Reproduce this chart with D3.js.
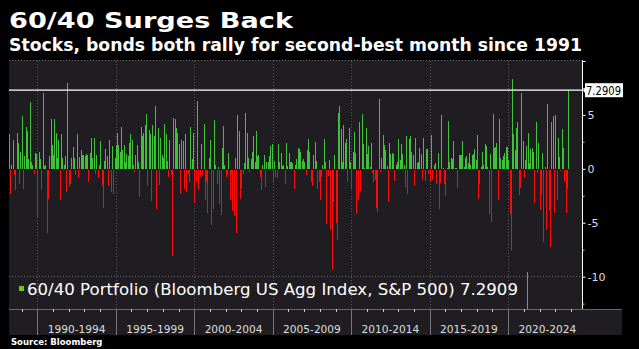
<!DOCTYPE html>
<html>
<head>
<meta charset="utf-8">
<script src="https://cdn.jsdelivr.net/npm/d3@7"></script>
<style>
html, body { margin: 0; padding: 0; background: #000; }
svg { display: block; }
text { font-family: "DejaVu Sans", Verdana, sans-serif; }
</style>
</head>
<body>
<svg id="svg" width="639" height="349"></svg>
<script>
// monthly 60/40 returns (%), first bar = March 1988, last = November 2023
var firstYear = 1988, firstMonth = 2;
var returns = [
  3.2, -2.2, 0.4, 2.7, -0.5, -1.9, 3.3, 2.4, -1.3, 1.6,
  4.9, -1.8, 1.2, 3.9, 3.5, 0.9, 6.2, 0.6, 0.4, -0.4,
  1.5, 1.4, -4.5, 1.6, 0.9, -1.9, 7.0, 0.25, 0.4, -5.9,
  -2.7, 1.2, 4.6, 2.2, 1.3, 4.6, 3.3, 1.0, 2.7, -2.8,
  3.2, 1.0, 0.4, 1.2, -2.1, 8.0, -1.6, -1.3, 1.0, 2.0,
  1.0, -0.5, 3.2, -0.8, 1.1, 1.7, 1.3, 1.3, 1.2, 1.4,
  1.3, -1.1, 1.5, 2.9, 1.0, 2.9, -0.4, 1.3, -0.8, 0.4,
  2.6, -1.5, -3.5, 0.7, 1.8, 1.2, -1.5, 2.7, -2.1, 2.1,
  -2.2, 1.0, 2.2, 3.3, 2.2, 1.6, 3.9, 1.7, 2.2, 0.6,
  1.4, 1.2, 2.4, 3.2, 2.7, 0.4, -0.2, 1.3, 2.2, 0.6,
  -2.5, 3.9, 3.0, 3.3, 4.1, 5.1, -1.5, 3.6, 3.2, -2.9,
  4.1,
  3.0, 5.8, -3.6, 3.8, -1.4, 2.9, 1.3, 1.0, 4.2, 3.2,
  0.7, -0.7, 2.7, -0.5, -8.0, 4.7, 4.6, 3.8, 3.3, 2.3,
  -2.2, 2.7, 2.6, -1.8, 3.2, -2.1, -0.4, -1.1, 3.9, 0.9,
  3.3, -3.1, -1.0, 6.3, -1.9, -0.7, 2.3, -0.5, 4.2, -2.8,
  -1.1, -4.0, 1.0, 2.7, -5.1, -3.6, 4.5, 0.4, -1.3, 0.2,
  -3.2, -4.2, 1.9, 4.0, 0.4, -0.7, -0.4, 1.5, -2.8, -0.4,
  -3.8, -4.3, 1.0, -5.9, 5.0, 3.5, -2.7, -1.8, -0.4, 0.5,
  5.2, 3.3, 1.0, -0.2, 0.9, 1.6, 3.0, 0.6, 3.5, 1.2,
  1.3, -0.7, -1.9, 0.4, 1.3, -1.6, 0.6, 0.6, 1.2, 2.1,
  2.3, -1.2, 0.7, -0.7, -0.8, 2.3, 0.6, 1.5, 0.3, 0.4,
  -1.3, 2.4, 0.3, 1.5, 0.6, 0.6, 0.5, -1.8,
  0.4, 0.9, 1.9, 1.8, 1.6, 0.7, 0.9, 0.6, -0.5, 1.7,
  2.8, 1.6, -1.1, -1.5, 1.3, 2.5, 0.7, -1.8, -1.1, -2.8,
  -0.7, 0.4, 2.8, 0.6, -5.0, -0.6, 0.8, -5.6, -9.3, -3.0,
  1.3, -4.9, -6.5, 5.2, 5.8, 3.7, 0.6, 4.1, 2.4, 2.8,
  -1.1, 3.8, 0.6, -1.8, 1.6, 3.4, 1.5, -4.1, -2.8, 4.3,
  -2.0, 5.1, 2.3, 0.1, 3.8, 1.4, 2.1, 0.2, 2.4, -0.3,
  -1.1, -0.9, -3.5, -3.9, 6.5, -0.2, 1.0, 3.1, 2.2, 1.7,
  0.3, -3.0, 2.4, 1.4, 1.5, 1.4, -1.0, 0.4, 0.6, 2.8,
  0.8, 2.3, 1.4, 0.4, -1.6, 3.0, -2.2, 2.8, 3.0, 1.6,
  1.3, -1.5, 2.9, 0.5, 0.6, 1.9, 1.4, -0.9, 2.9, -1.0,
  1.8, 1.8, -0.4, -1.0, 3.1, -0.9, 0.4, 0.5, -1.3,
  1.5, -3.6, -1.2, 5.0, 0.1, -1.3, -2.4, 0.1, 4.4, 0.6,
  1.0, 0.9, 2.6, 0.1, 0.1, -1.7, 1.3, 1.3, 1.3, 2.6,
  0.2, 1.0, 1.2, 0.5, 1.5, 0.4, 1.3, 1.4, 1.8, 0.8,
  3.1, -2.7, -1.3, 0.2, 1.6, 0.4, 2.3, 2.1, 0.2, -4.1,
  1.4, -4.8, 5.1, 1.9, 2.0, 2.4, -2.8, 4.6, 1.0, 0.8,
  1.2, 1.5, 2.0, 2.0, 0.8, -4.1, -7.4, 8.3, 3.2, 1.7,
  3.8, 4.3, -2.3, -1.7, 7.0, 2.6, -0.8, 0.8, 2.1, 3.3,
  0.5, 1.8, 1.9, 1.6, -3.1, 4.3, -0.3, 2.4, -3.7, -2.3,
  1.5, -6.7, 0.2, -5.6, 6.0, -3.7, -7.2, 4.3, 4.9, -4.0,
  5.0, -2.8, 2.9, 1.1, -0.1, 3.7, 1.9, -1.1, -4.0, -1.8,
  7.2909
];
var latest = 7.2909;
var periodStarts = [1990, 1995, 2000, 2005, 2010, 2015, 2020];
var periodLabels = ["1990-1994", "1995-1999", "2000-2004", "2005-2009", "2010-2014", "2015-2019", "2020-2024"];
var majorTicks = [-10, -5, 0, 5, 10];
var minorTicks = [-12.5, -7.5, -2.5, 2.5, 7.5];
var gridValues = [-10, 10];
var title = "60/40 Surges Back";
var subtitle = "Stocks, bonds both rally for second-best month since 1991";
var legendLabel = "60/40 Portfolio (Bloomberg US Agg Index, S&P 500)";
var source = "Source: Bloomberg";

var svg = d3.select("#svg");

var plot = {left: 9, right: 582, top: 61, bottom: 309};

var data = returns.map(function(v, i) {
  return {date: new Date(firstYear, firstMonth + i, 15), value: v};
});

var x = d3.scaleTime()
    .domain([new Date(1988, 2, 12), new Date(2024, 8, 16)])
    .range([plot.left, plot.right]);

var y = d3.scaleLinear()
    .domain([-13, 10])
    .range([plot.bottom, plot.top]);

// plot background
svg.append("rect")
    .attr("x", plot.left).attr("y", plot.top - 1)
    .attr("width", plot.right - plot.left).attr("height", plot.bottom - plot.top + 1)
    .attr("fill", "#1f1d21");

// dotted grid
svg.append("g").selectAll("line")
  .data(gridValues)
  .enter().append("line")
    .attr("x1", plot.left).attr("x2", plot.right)
    .attr("y1", function(d) { return Math.round(y(d)) - 0.5; })
    .attr("y2", function(d) { return Math.round(y(d)) - 0.5; })
    .attr("stroke", "#6a6a6a")
    .attr("stroke-dasharray", "1,2");

svg.append("g").selectAll("line")
  .data(periodStarts)
  .enter().append("line")
    .attr("x1", function(d) { return Math.round(x(new Date(d, 0, 1))) + 0.5; })
    .attr("x2", function(d) { return Math.round(x(new Date(d, 0, 1))) + 0.5; })
    .attr("y1", plot.top).attr("y2", plot.bottom)
    .attr("stroke", "#5a5a5a")
    .attr("stroke-dasharray", "1,2");

// bars
var zeroY = Math.round(y(0));
svg.append("g")
    .attr("shape-rendering", "crispEdges")
  .selectAll("rect")
  .data(data)
  .enter().append("rect")
    .attr("x", function(d) { return Math.floor(x(d.date)); })
    .attr("width", 1)
    .attr("y", function(d) { return d.value >= 0 ? Math.round(y(d.value)) : zeroY + 1; })
    .attr("height", function(d) {
      return d.value >= 0 ? zeroY - Math.round(y(d.value)) : Math.round(y(d.value)) - zeroY;
    })
    .attr("fill", function(d) { return d.value >= 0 ? "#3fc23a" : "#ff0a0a"; });

// latest value line
svg.append("line")
    .attr("x1", plot.left).attr("x2", plot.right)
    .attr("y1", y(latest)).attr("y2", y(latest))
    .attr("stroke", "#fff")
    .attr("stroke-width", 1.3);

// legend
svg.append("line")
    .attr("x1", 527.5).attr("x2", 527.5)
    .attr("y1", 272).attr("y2", plot.bottom)
    .attr("stroke", "#8a8a8a");
svg.append("rect")
    .attr("x", 19).attr("y", 286).attr("width", 5).attr("height", 5)
    .attr("fill", "#66cc11");
svg.append("text")
    .attr("x", 27).attr("y", 295)
    .attr("font-size", 16.6)
    .attr("fill", "#fff")
    .attr("textLength", 491)
    .attr("lengthAdjust", "spacingAndGlyphs")
    .text(legendLabel + " " + latest);

// right axis
var axis = svg.append("g")
    .attr("transform", "translate(" + (plot.right + 0.5) + ",0)")
    .call(d3.axisRight(y)
      .tickValues(majorTicks)
      .tickSize(3)
      .tickPadding(2)
      .tickFormat(function(d) { return d == 10 ? "" : d; }));
axis.select(".domain").attr("stroke", "#fff").attr("d", "M0," + (plot.top - 1) + "V" + plot.bottom);
axis.selectAll(".tick line").attr("stroke", "#fff");
axis.selectAll(".tick text")
    .attr("fill", "#ddd")
    .attr("font-size", 11)
    .attr("font-family", "DejaVu Sans");

svg.append("g")
    .attr("transform", "translate(" + (plot.right + 0.5) + ",0)")
    .call(d3.axisRight(y).tickValues(minorTicks).tickSize(2).tickFormat(""))
  .call(function(g) {
    g.select(".domain").remove();
    g.selectAll(".tick line").attr("stroke", "#ccc");
  });

// latest value tag
var tagY = y(latest);
svg.append("path")
    .attr("d", "M" + (plot.right + 1) + "," + tagY + "L" + (plot.right + 4) + "," + (tagY - 4) + "V" + (tagY + 4) + "Z")
    .attr("fill", "#fff");
svg.append("rect")
    .attr("x", 585).attr("y", tagY - 7)
    .attr("width", 38).attr("height", 14)
    .attr("fill", "#fff");
svg.append("text")
    .attr("x", 586).attr("y", tagY + 4.5)
    .attr("font-size", 11.5)
    .attr("fill", "#000")
    .attr("textLength", 35)
    .attr("lengthAdjust", "spacingAndGlyphs")
    .text(latest);

// bottom time axis band
var band = {top: 309, bottom: 335, right: 622};
svg.append("rect")
    .attr("x", plot.left).attr("y", band.top)
    .attr("width", band.right - plot.left).attr("height", band.bottom - band.top)
    .attr("fill", "#1f1d21");
svg.append("line")
    .attr("x1", plot.left).attr("x2", band.right)
    .attr("y1", band.top + 0.5).attr("y2", band.top + 0.5)
    .attr("stroke", "#666");

var years = d3.range(1989, 2025);
svg.append("g").selectAll("line")
  .data(years)
  .enter().append("line")
    .attr("x1", function(d) { return Math.round(x(new Date(d, 0, 1))) + 0.5; })
    .attr("x2", function(d) { return Math.round(x(new Date(d, 0, 1))) + 0.5; })
    .attr("y1", band.top).attr("y2", band.top + 3)
    .attr("stroke", "#ccc");

svg.append("g").selectAll("line")
  .data(periodStarts)
  .enter().append("line")
    .attr("x1", function(d) { return Math.round(x(new Date(d, 0, 1))) + 0.5; })
    .attr("x2", function(d) { return Math.round(x(new Date(d, 0, 1))) + 0.5; })
    .attr("y1", band.top).attr("y2", band.bottom)
    .attr("stroke", "#777");

svg.append("g").selectAll("text")
  .data(periodLabels)
  .enter().append("text")
    .attr("x", function(d, i) {
      return (x(new Date(periodStarts[i], 0, 1)) + x(new Date(periodStarts[i] + 5, 0, 1))) / 2;
    })
    .attr("y", 332.5)
    .attr("text-anchor", "middle")
    .attr("font-size", 10.6)
    .attr("fill", "#ddd")
    .text(function(d) { return d; });

// titles
svg.append("text")
    .attr("x", 9).attr("y", 27.5)
    .attr("font-size", 22)
    .attr("font-weight", "bold")
    .attr("fill", "#fff")
    .attr("textLength", 284)
    .attr("lengthAdjust", "spacingAndGlyphs")
    .text(title);

svg.append("text")
    .attr("x", 9).attr("y", 51)
    .attr("font-size", 17)
    .attr("font-weight", "bold")
    .attr("fill", "#fff")
    .attr("textLength", 573)
    .attr("lengthAdjust", "spacingAndGlyphs")
    .text(subtitle);

svg.append("text")
    .attr("x", 11).attr("y", 344.5)
    .attr("font-size", 8.5)
    .attr("font-weight", "bold")
    .attr("fill", "#fff")
    .text(source);
</script>
</body>
</html>
